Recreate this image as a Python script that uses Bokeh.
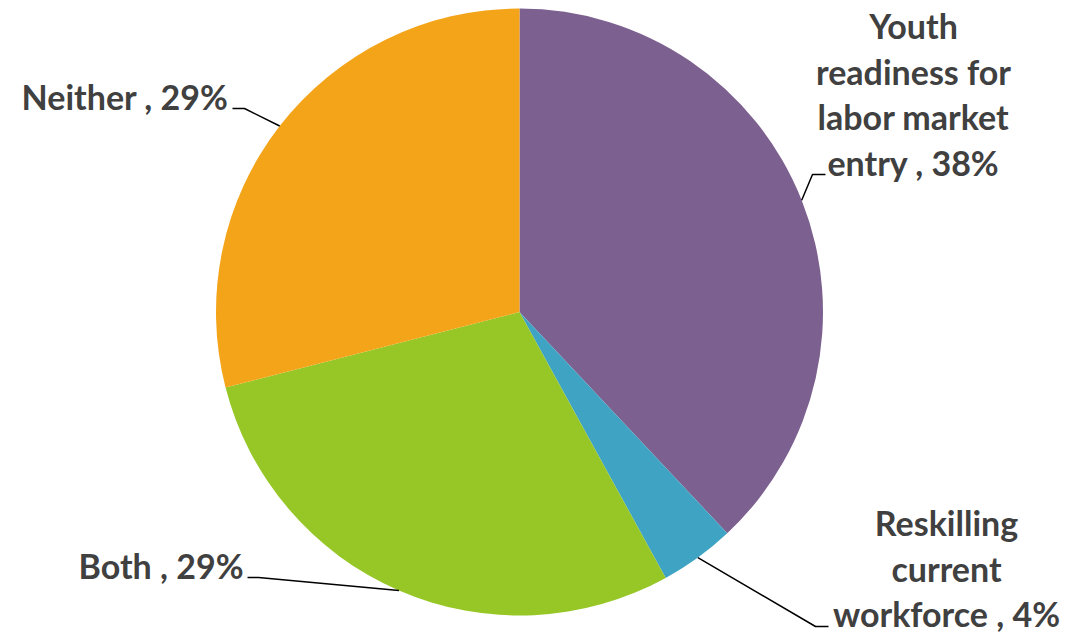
import math
from bokeh.plotting import figure
from bokeh.models import Range1d, ColumnDataSource
from bokeh.core.properties import value
from bokeh.embed import file_html
from bokeh.resources import INLINE

# ---- data ----
categories = ["Youth\nreadiness for\nlabor market\nentry , 38%",
              "Reskilling\ncurrent\nworkforce , 4%",
              "Both , 29%",
              "Neither , 29%"]
shares = [38, 4, 29, 29]
colors = ["#7C6190", "#3FA3C3", "#96C727", "#F4A419"]

# ---- layout (page pixel coordinates; y measured from top) ----
W, H = 1071, 633
cx, cy_top, R = 519, 311.5, 303.5
FONT = "Lato"
FS = 34
TEXT_COLOR = "#404040"

def Y(py):
    return H - py

p = figure(width=W, height=H, x_range=Range1d(0, W), y_range=Range1d(0, H),
           output_backend="svg", toolbar_location=None, min_border=0,
           x_axis_location=None, y_axis_location=None)
p.grid.visible = False
p.outline_line_color = None
p.background_fill_color = "white"

total = sum(shares)
starts, ends, mids = [], [], []
acc = 0
for s in shares:
    a0 = math.pi / 2 - 2 * math.pi * acc / total
    acc += s
    a1 = math.pi / 2 - 2 * math.pi * acc / total
    starts.append(a0)
    ends.append(a1)
    mids.append((a0 + a1) / 2)

src = ColumnDataSource(dict(start=starts, end=ends, color=colors))
p.wedge(x=cx, y=Y(cy_top), radius=R, start_angle="start", end_angle="end",
        direction="clock", fill_color="color", line_color=None, source=src)

# leader lines: from slice mid-angle on the edge to an elbow, then a short tick
elbows = [((812, 174), (825, 174)),
          ((815, 626), (828, 626)),
          ((258, 577), (247, 577)),
          ((244, 108), (232, 108))]
xs, ys = [], []
for m, (e1, e2) in zip(mids, elbows):
    ex = cx + R * math.cos(m)
    ey = Y(cy_top) + R * math.sin(m)
    xs.append([ex, e1[0], e2[0]])
    ys.append([ey, Y(e1[1]), Y(e2[1])])
p.multi_line(xs, ys, line_color="black", line_width=1.5)

# label anchors: (x, first line position, align)
anchors = [(913, 25, "center"), (946, 522, "center"), (243, 565, "right"), (228, 96, "right")]
LH = 45.5
tx, ty, tt, ta = [], [], [], []
for lab, (ax, ab, al) in zip(categories, anchors):
    for i, line in enumerate(lab.split("\n")):
        tx.append(ax)
        ty.append(Y(ab + i * LH))
        tt.append(line)
        ta.append(al)
tsrc = ColumnDataSource(dict(x=tx, y=ty, text=tt, align=ta))
p.text(x="x", y="y", text="text", text_align="align", text_baseline="alphabetic",
       text_font=value(FONT), text_font_style="bold", text_font_size=f"{FS}px",
       text_color=TEXT_COLOR, source=tsrc)

open("out.html", "w").write(file_html(p, INLINE))
